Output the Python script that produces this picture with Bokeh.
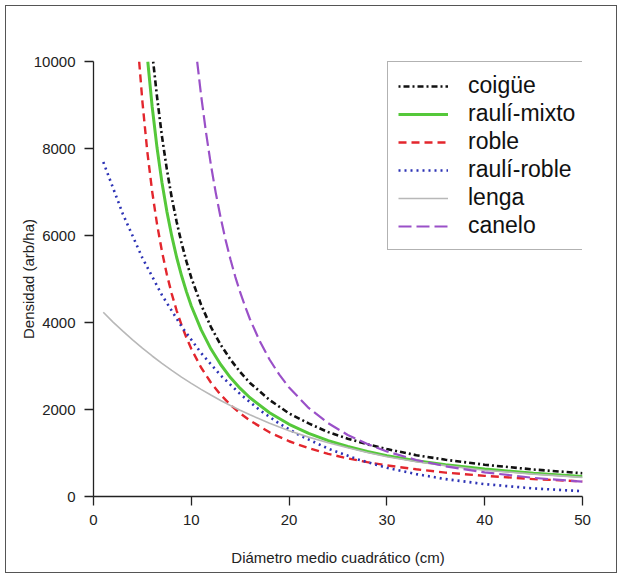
from bokeh.plotting import figure
from bokeh.models import Range1d, FixedTicker, Legend, LegendItem
from bokeh.embed import file_html
from bokeh.resources import INLINE

# ---- data ----
x_ticks = [0, 10, 20, 30, 40, 50]
y_ticks = [0, 2000, 4000, 6000, 8000, 10000]

coigue_d = [6.1, 6.5, 7, 7.5, 8, 8.5, 9, 9.5, 10, 11, 12, 13, 14, 15, 16, 18, 20, 22, 24, 26, 28, 30, 33, 36, 40, 45, 50]
coigue_n = [10000, 9180, 8280, 7520, 6870, 6315, 5830, 5405, 5030, 4410, 3900, 3490, 3150, 2860, 2610, 2220, 1910, 1680, 1480, 1330, 1200, 1090, 950, 845, 730, 620, 535]

rmixto_d = [5.55, 6, 6.5, 7, 7.5, 8, 8.5, 9, 9.5, 10, 11, 12, 13, 14, 15, 16, 18, 20, 22, 24, 26, 28, 30, 33, 36, 40, 45, 50]
rmixto_n = [10000, 8960, 8010, 7220, 6555, 5990, 5500, 5080, 4710, 4380, 3835, 3395, 3035, 2735, 2485, 2270, 1925, 1660, 1450, 1285, 1150, 1035, 940, 820, 730, 630, 535, 460]

roble_d = [4.67, 5, 5.5, 6, 6.5, 7, 7.5, 8, 8.5, 9, 9.5, 10, 11, 12, 13, 14, 15, 16, 18, 20, 22, 24, 26, 28, 30, 33, 36, 40, 45, 50]
roble_n = [10000, 9080, 7930, 7010, 6255, 5635, 5105, 4660, 4275, 3945, 3650, 3395, 2965, 2620, 2340, 2105, 1910, 1745, 1475, 1270, 1110, 980, 875, 790, 715, 625, 550, 475, 400, 346]

rroble_d = [1, 3, 5, 7, 9, 11, 13, 15, 17, 19, 21, 24, 27, 30, 33, 36, 40, 45, 50]
rroble_n = [7690, 6495, 5485, 4630, 3910, 3300, 2785, 2355, 1985, 1675, 1415, 1100, 855, 660, 515, 400, 285, 185, 122]

lenga_d = [1, 2, 3, 4, 5, 6, 7, 8, 9, 10, 11, 12, 13, 14, 15, 16, 17, 18, 19, 20, 22, 24, 26, 28, 30, 33, 36, 40, 45, 50]
lenga_n = [4235, 4010, 3800, 3600, 3410, 3230, 3060, 2898, 2745, 2600, 2462, 2332, 2208, 2092, 1982, 1878, 1780, 1686, 1596, 1510, 1365, 1235, 1120, 1010, 915, 800, 710, 605, 515, 440]

canelo_d = [10.6, 11, 11.5, 12, 12.5, 13, 13.5, 14, 14.5, 15, 15.5, 16, 17, 18, 19, 20, 22, 24, 26, 28, 30, 33, 36, 40, 45, 50]
canelo_n = [10000, 9225, 8375, 7630, 6980, 6410, 5900, 5455, 5050, 4690, 4370, 4075, 3570, 3150, 2800, 2505, 2035, 1685, 1415, 1205, 1035, 840, 695, 555, 428, 340]

labels = ["coigüe", "raulí-mixto", "roble", "raulí-roble", "lenga", "canelo"]

FONT = "Liberation Sans"

p = figure(width=610, height=566, output_backend="svg", toolbar_location=None,
           x_range=Range1d(0, 50), y_range=Range1d(0, 10000),
           min_border_left=87, min_border_right=34, min_border_top=55, min_border_bottom=76)
p.styles = {"margin": "6px", "box-shadow": "0 0 0 1px #555555"}
p.background_fill_color = "white"
p.border_fill_color = "white"
p.outline_line_color = None
p.xgrid.visible = False
p.ygrid.visible = False

for ax in (p.xaxis[0], p.yaxis[0]):
    ax.axis_line_color = "#222222"
    ax.axis_line_width = 1.3
    ax.major_tick_line_color = "#222222"
    ax.major_tick_line_width = 1.3
    ax.major_tick_out = 9
    ax.major_tick_in = 0
    ax.minor_tick_line_color = None
    ax.major_label_text_font = FONT
    ax.major_label_text_font_size = "15px"
    ax.major_label_text_color = "#222222"
    ax.major_label_standoff = 9
    ax.axis_label_text_font = FONT
    ax.axis_label_text_font_size = "15px"
    ax.axis_label_text_font_style = "normal"
    ax.axis_label_text_color = "#222222"

p.xaxis.ticker = FixedTicker(ticks=x_ticks)
p.yaxis.ticker = FixedTicker(ticks=y_ticks)
p.xaxis.axis_label = "Diámetro medio cuadrático (cm)"
p.yaxis.axis_label = "Densidad (arb/ha)"
p.xaxis.axis_label_standoff = 21
p.yaxis.axis_label_standoff = -6

r1 = p.line(coigue_d, coigue_n, line_color="#111111", line_width=2.6, line_dash="2 3 6 3")
r2 = p.line(rmixto_d, rmixto_n, line_color="#55c83a", line_width=3)
r3 = p.line(roble_d, roble_n, line_color="#e3262d", line_width=2.4, line_dash="8 5")
r4 = p.line(rroble_d, rroble_n, line_color="#2d33b5", line_width=2.6, line_dash="2 4")
r5 = p.line(lenga_d, lenga_n, line_color="#b8b8b8", line_width=1.6)
r6 = p.line(canelo_d, canelo_n, line_color="#9a50c8", line_width=2.2, line_dash="13 5")

items = [LegendItem(label=lab, renderers=[r]) for lab, r in zip(labels, [r1, r2, r3, r4, r5, r6])]
legend = Legend(items=items, location=(294, 246))
legend.label_text_font = FONT
legend.label_text_font_size = "23px"
legend.label_text_color = "#111111"
legend.glyph_width = 50
legend.glyph_height = 24
legend.label_height = 24
legend.label_standoff = 20
legend.spacing = 1
legend.padding = 10
legend.margin = 0
legend.border_line_color = "#666666"
legend.border_line_width = 1.5
legend.background_fill_color = "white"
legend.background_fill_alpha = 1
p.add_layout(legend, "center")

open("out.html", "w").write(file_html(p, INLINE))
